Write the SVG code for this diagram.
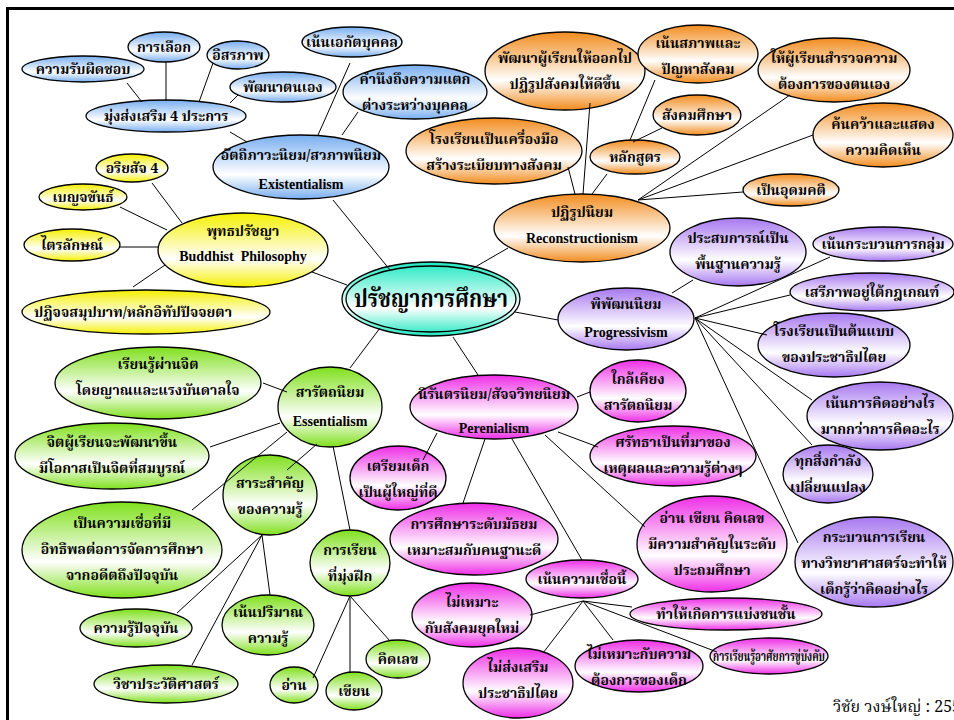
<svg xmlns="http://www.w3.org/2000/svg" width="954" height="720" viewBox="0 0 954 720">
<defs>
<linearGradient id="gB" x1="0" y1="0" x2="0" y2="1"><stop offset="0" stop-color="#78aef0"/><stop offset="0.62" stop-color="#ffffff"/><stop offset="1" stop-color="#78aef0"/></linearGradient>
<linearGradient id="gY" x1="0" y1="0" x2="0" y2="1"><stop offset="0" stop-color="#f5f000"/><stop offset="0.62" stop-color="#ffffff"/><stop offset="1" stop-color="#f5f000"/></linearGradient>
<linearGradient id="gO" x1="0" y1="0" x2="0" y2="1"><stop offset="0" stop-color="#f28c1e"/><stop offset="0.62" stop-color="#ffffff"/><stop offset="1" stop-color="#f28c1e"/></linearGradient>
<linearGradient id="gP" x1="0" y1="0" x2="0" y2="1"><stop offset="0" stop-color="#a778f0"/><stop offset="0.62" stop-color="#ffffff"/><stop offset="1" stop-color="#a778f0"/></linearGradient>
<linearGradient id="gM" x1="0" y1="0" x2="0" y2="1"><stop offset="0" stop-color="#ee2ee6"/><stop offset="0.62" stop-color="#ffffff"/><stop offset="1" stop-color="#ee2ee6"/></linearGradient>
<linearGradient id="gG" x1="0" y1="0" x2="0" y2="1"><stop offset="0" stop-color="#7fe01c"/><stop offset="0.62" stop-color="#ffffff"/><stop offset="1" stop-color="#7fe01c"/></linearGradient>
<linearGradient id="gT" x1="0" y1="0" x2="0" y2="1"><stop offset="0" stop-color="#1ee8c0"/><stop offset="0.62" stop-color="#ffffff"/><stop offset="1" stop-color="#1ee8c0"/></linearGradient>
</defs>
<style>
ellipse{stroke:#000;stroke-width:1.3}
.b{fill:url(#gB)} .y{fill:url(#gY)} .o{fill:url(#gO)} .p{fill:url(#gP)} .m{fill:url(#gM)} .g{fill:url(#gG)} .t{fill:url(#gT)}
text{font-family:'Noto Serif Thai','Noto Sans Thai','Liberation Serif',serif;font-weight:bold;font-size:14px;fill:#000;text-anchor:middle}
text.en{font-family:'Liberation Serif',serif;font-size:14px}
text.big{font-size:24px}
text.foot{font-weight:normal;text-anchor:start;font-size:16px}
#connectors line{stroke:#000;stroke-width:1}
</style>
<rect width="954" height="720" fill="#fff"/>
<path d="M7.5,720 V8.5 H954" fill="none" stroke="#000" stroke-width="3"/>

<!-- Blue / Existentialism -->
<g id="n1"><ellipse class="b" cx="83" cy="69" rx="61" ry="13"/><text x="83" y="74">ความรับผิดชอบ</text></g>
<g id="n2"><ellipse class="b" cx="164" cy="47" rx="36" ry="15"/><text x="164" y="52">การเลือก</text></g>
<g id="n3"><ellipse class="b" cx="238" cy="55" rx="31" ry="14"/><text x="238" y="60">อิสรภาพ</text></g>
<g id="n4"><ellipse class="b" cx="283" cy="87" rx="53" ry="15"/><text x="283" y="92">พัฒนาตนเอง</text></g>
<g id="n5"><ellipse class="b" cx="166" cy="116" rx="80" ry="16"/><text x="166" y="121">มุ่งส่งเสริม 4 ประการ</text></g>
<g id="n6"><ellipse class="b" cx="301" cy="167" rx="88" ry="32"/><text x="301" y="160">อัตถิภาวะนิยม/สวภาพนิยม</text><text class="en" x="301" y="189">Existentialism</text></g>
<g id="n7"><ellipse class="b" cx="352" cy="42" rx="50" ry="15"/><text x="352" y="47">เน้นเอกัตบุคคล</text></g>
<g id="n8"><ellipse class="b" cx="415" cy="92" rx="72" ry="27"/><text x="415" y="84">คำนึงถึงความแตก</text><text x="415" y="110">ต่างระหว่างบุคคล</text></g>

<!-- Yellow / Buddhist -->
<g id="y1"><ellipse class="y" cx="132" cy="168" rx="36" ry="14"/><text x="132" y="173">อริยสัจ 4</text></g>
<g id="y2"><ellipse class="y" cx="83" cy="197" rx="44" ry="13"/><text x="83" y="202">เบญจขันธ์</text></g>
<g id="y3"><ellipse class="y" cx="72" cy="245" rx="48" ry="16"/><text x="72" y="250">ไตรลักษณ์</text></g>
<g id="y4"><ellipse class="y" cx="243" cy="250" rx="85" ry="37"/><text x="243" y="236">พุทธปรัชญา</text><text class="en" x="243" y="261" xml:space="preserve">Buddhist  Philosophy</text></g>
<g id="y5"><ellipse class="y" cx="146" cy="312" rx="124" ry="22"/><text x="133" y="317" textLength="198" lengthAdjust="spacingAndGlyphs">ปฏิจจสมุปบาท/หลักอิทัปปัจจยตา</text></g>

<!-- Center -->
<g id="center"><ellipse class="t" cx="431" cy="299" rx="89" ry="37" stroke-width="1.5"/><ellipse cx="431" cy="299" rx="85" ry="33" fill="none" stroke-width="1.5"/><text class="big" x="431" y="307" textLength="154" lengthAdjust="spacingAndGlyphs">ปรัชญาการศึกษา</text></g>

<!-- Orange / Reconstructionism -->
<g id="o1"><ellipse class="o" cx="565" cy="71" rx="80" ry="39"/><text x="565" y="63">พัฒนาผู้เรียนให้ออกไป</text><text x="565" y="89">ปฏิรูปสังคมให้ดีขึ้น</text></g>
<g id="o2"><ellipse class="o" cx="698" cy="54" rx="60" ry="29"/><text x="698" y="48">เน้นสภาพและ</text><text x="698" y="74">ปัญหาสังคม</text></g>
<g id="o3"><ellipse class="o" cx="834" cy="70" rx="76" ry="32"/><text x="834" y="63">ให้ผู้เรียนสำรวจความ</text><text x="834" y="89">ต้องการของตนเอง</text></g>
<g id="o4"><ellipse class="o" cx="697" cy="115" rx="44" ry="20"/><text x="697" y="120">สังคมศึกษา</text></g>
<g id="o5"><ellipse class="o" cx="494" cy="151" rx="88" ry="33"/><text x="494" y="144">โรงเรียนเป็นเครื่องมือ</text><text x="494" y="170">สร้างระเบียบทางสังคม</text></g>
<g id="o6"><ellipse class="o" cx="635" cy="157" rx="45" ry="17"/><text x="635" y="162">หลักสูตร</text></g>
<g id="o7"><ellipse class="o" cx="883" cy="135" rx="70" ry="32"/><text x="883" y="129">ค้นคว้าและแสดง</text><text x="883" y="155">ความคิดเห็น</text></g>
<g id="o8"><ellipse class="o" cx="791" cy="190" rx="48" ry="16"/><text x="791" y="195">เป็นอุดมคติ</text></g>
<g id="o9"><ellipse class="o" cx="582" cy="228" rx="88" ry="34"/><text x="582" y="217">ปฏิรูปนิยม</text><text class="en" x="582" y="243">Reconstructionism</text></g>

<!-- Purple / Progressivism -->
<g id="p1"><ellipse class="p" cx="626" cy="319" rx="68" ry="31"/><text x="626" y="309">พิพัฒนนิยม</text><text class="en" x="626" y="337">Progressivism</text></g>
<g id="p2"><ellipse class="p" cx="738" cy="252" rx="68" ry="34"/><text x="738" y="243">ประสบการณ์เป็น</text><text x="738" y="269">พื้นฐานความรู้</text></g>
<g id="p3"><ellipse class="p" cx="883" cy="244" rx="70" ry="17"/><text x="883" y="249">เน้นกระบวนการกลุ่ม</text></g>
<g id="p4"><ellipse class="p" cx="872" cy="292" rx="82" ry="19"/><text x="872" y="297">เสรีภาพอยู่ใต้กฎเกณฑ์</text></g>
<g id="p5"><ellipse class="p" cx="834" cy="345" rx="76" ry="32"/><text x="834" y="336">โรงเรียนเป็นต้นแบบ</text><text x="834" y="362">ของประชาธิปไตย</text></g>
<g id="p6"><ellipse class="p" cx="880" cy="416" rx="73" ry="34"/><text x="880" y="408">เน้นการคิดอย่างไร</text><text x="880" y="434">มากกว่าการคิดอะไร</text></g>
<g id="p7"><ellipse class="p" cx="828" cy="474" rx="45" ry="29"/><text x="828" y="466">ทุกสิ่งกำลัง</text><text x="828" y="492">เปลี่ยนแปลง</text></g>
<g id="p8"><ellipse class="p" cx="874" cy="562" rx="79" ry="45"/><text x="874" y="542">กระบวนการเรียน</text><text x="874" y="568">ทางวิทยาศาสตร์จะทำให้</text><text x="874" y="594">เด็กรู้ว่าคิดอย่างไร</text></g>

<!-- Magenta / Perenialism -->
<g id="m1"><ellipse class="m" cx="494" cy="407" rx="84" ry="32"/><text x="494" y="399">นิรันตรนิยม/สัจจวิทยนิยม</text><text class="en" x="494" y="433">Perenialism</text></g>
<g id="m2"><ellipse class="m" cx="638" cy="391" rx="48" ry="31"/><text x="638" y="384">ใกล้เคียง</text><text x="638" y="410">สารัตถนิยม</text></g>
<g id="m3"><ellipse class="m" cx="673" cy="456" rx="83" ry="30"/><text x="673" y="447">ศรัทธาเป็นที่มาของ</text><text x="673" y="473">เหตุผลและความรู้ต่างๆ</text></g>
<g id="m4"><ellipse class="m" cx="398" cy="478" rx="48" ry="32"/><text x="398" y="471">เตรียมเด็ก</text><text x="398" y="497">เป็นผู้ใหญ่ที่ดี</text></g>
<g id="m5"><ellipse class="m" cx="474" cy="539" rx="84" ry="36"/><text x="474" y="529">การศึกษาระดับมัธยม</text><text x="474" y="555">เหมาะสมกับคนฐานะดี</text></g>
<g id="m6"><ellipse class="m" cx="712" cy="544" rx="75" ry="48"/><text x="712" y="523">อ่าน เขียน คิดเลข</text><text x="712" y="549">มีความสำคัญในระดับ</text><text x="712" y="575">ประถมศึกษา</text></g>
<g id="m7"><ellipse class="m" cx="582" cy="579" rx="56" ry="19"/><text x="582" y="584">เน้นความเชื่อนี้</text></g>
<g id="m8"><ellipse class="m" cx="472" cy="615" rx="60" ry="32"/><text x="472" y="607">ไม่เหมาะ</text><text x="472" y="633">กับสังคมยุคใหม่</text></g>
<g id="m9"><ellipse class="m" cx="726" cy="614" rx="96" ry="16"/><text x="726" y="619">ทำให้เกิดการแบ่งชนชั้น</text></g>
<g id="m10"><ellipse class="m" cx="518" cy="683" rx="55" ry="35"/><text x="518" y="672">ไม่ส่งเสริม</text><text x="518" y="698">ประชาธิปไตย</text></g>
<g id="m11"><ellipse class="m" cx="639" cy="666" rx="64" ry="26"/><text x="639" y="659">ไม่เหมาะกับความ</text><text x="639" y="685">ต้องการของเด็ก</text></g>
<g id="m12"><ellipse class="m" cx="769" cy="656" rx="59" ry="18"/><text x="769" y="661" textLength="112" lengthAdjust="spacingAndGlyphs">การเรียนรู้อาศัยการขู่บังคับ</text></g>

<!-- Green / Essentialism -->
<g id="g1"><ellipse class="g" cx="330" cy="407" rx="52" ry="40"/><text x="330" y="397">สารัตถนิยม</text><text class="en" x="330" y="426">Essentialism</text></g>
<g id="g2"><ellipse class="g" cx="158" cy="383" rx="103" ry="36"/><text x="158" y="369">เรียนรู้ผ่านจิต</text><text x="158" y="395">โดยญาณและแรงบันดาลใจ</text></g>
<g id="g3"><ellipse class="g" cx="112" cy="456" rx="97" ry="33"/><text x="112" y="447">จิตผู้เรียนจะพัฒนาขึ้น</text><text x="112" y="473">มีโอกาสเป็นจิตที่สมบูรณ์</text></g>
<g id="g4"><ellipse class="g" cx="122" cy="550" rx="100" ry="48"/><text x="122" y="528">เป็นความเชื่อที่มี</text><text x="122" y="554">อิทธิพลต่อการจัดการศึกษา</text><text x="122" y="580">จากอดีตถึงปัจจุบัน</text></g>
<g id="g5"><ellipse class="g" cx="270" cy="495" rx="47" ry="40"/><text x="270" y="488">สาระสำคัญ</text><text x="270" y="514">ของความรู้</text></g>
<g id="g6"><ellipse class="g" cx="136" cy="628" rx="56" ry="19"/><text x="136" y="633">ความรู้ปัจจุบัน</text></g>
<g id="g7"><ellipse class="g" cx="268" cy="625" rx="46" ry="30"/><text x="268" y="617">เน้นปริมาณ</text><text x="268" y="643">ความรู้</text></g>
<g id="g8"><ellipse class="g" cx="166" cy="684" rx="72" ry="19"/><text x="166" y="689">วิชาประวัติศาสตร์</text></g>
<g id="g9"><ellipse class="g" cx="350" cy="563" rx="40" ry="33"/><text x="350" y="555">การเรียน</text><text x="350" y="581">ที่มุ่งฝึก</text></g>
<g id="g10"><ellipse class="g" cx="294" cy="685" rx="24" ry="18"/><text x="294" y="690">อ่าน</text></g>
<g id="g11"><ellipse class="g" cx="354" cy="691" rx="28" ry="19"/><text x="354" y="696">เขียน</text></g>
<g id="g12"><ellipse class="g" cx="398" cy="659" rx="32" ry="19"/><text x="398" y="664">คิดเลข</text></g>

<g id="connectors">
<line x1="127" y1="83" x2="142" y2="102"/>
<line x1="166" y1="62" x2="166" y2="101"/>
<line x1="213" y1="63" x2="199" y2="102"/>
<line x1="238" y1="95" x2="230" y2="103"/>
<line x1="230" y1="132" x2="247" y2="142"/>
<line x1="350" y1="63" x2="318" y2="135"/>
<line x1="358" y1="112" x2="342" y2="135"/>
<line x1="333" y1="200" x2="390" y2="270"/>
<line x1="152" y1="183" x2="182" y2="223"/>
<line x1="120" y1="207" x2="167" y2="230"/>
<line x1="120" y1="247" x2="158" y2="247"/>
<line x1="133" y1="287" x2="165" y2="265"/>
<line x1="312" y1="272" x2="347" y2="285"/>
<line x1="470" y1="270" x2="508" y2="248"/>
<line x1="590" y1="103" x2="583" y2="194"/>
<line x1="568" y1="167" x2="575" y2="194"/>
<line x1="607" y1="174" x2="592" y2="194"/>
<line x1="655" y1="80" x2="630" y2="140"/>
<line x1="662" y1="128" x2="633" y2="142"/>
<line x1="790" y1="95" x2="638" y2="200"/>
<line x1="813" y1="135" x2="638" y2="200"/>
<line x1="743" y1="192" x2="638" y2="200"/>
<line x1="515" y1="312" x2="558" y2="320"/>
<line x1="693" y1="280" x2="672" y2="293"/>
<line x1="695" y1="318" x2="830" y2="257"/>
<line x1="695" y1="318" x2="790" y2="295"/>
<line x1="695" y1="318" x2="767" y2="335"/>
<line x1="695" y1="318" x2="812" y2="400"/>
<line x1="695" y1="318" x2="812" y2="445"/>
<line x1="695" y1="318" x2="798" y2="543"/>
<line x1="453" y1="337" x2="478" y2="375"/>
<line x1="590" y1="392" x2="577" y2="397"/>
<line x1="598" y1="447" x2="558" y2="432"/>
<line x1="423" y1="460" x2="437" y2="433"/>
<line x1="463" y1="503" x2="485" y2="439"/>
<line x1="645" y1="527" x2="545" y2="435"/>
<line x1="582" y1="560" x2="512" y2="439"/>
<line x1="583" y1="601" x2="530" y2="615"/>
<line x1="583" y1="601" x2="543" y2="653"/>
<line x1="583" y1="601" x2="613" y2="640"/>
<line x1="583" y1="601" x2="632" y2="607"/>
<line x1="583" y1="601" x2="717" y2="652"/>
<line x1="380" y1="328" x2="350" y2="368"/>
<line x1="263" y1="383" x2="287" y2="392"/>
<line x1="210" y1="447" x2="280" y2="423"/>
<line x1="192" y1="510" x2="287" y2="432"/>
<line x1="287" y1="470" x2="317" y2="444"/>
<line x1="350" y1="530" x2="333" y2="446"/>
<line x1="262" y1="535" x2="270" y2="595"/>
<line x1="262" y1="535" x2="177" y2="613"/>
<line x1="262" y1="535" x2="192" y2="665"/>
<line x1="350" y1="596" x2="313" y2="678"/>
<line x1="350" y1="596" x2="350" y2="672"/>
<line x1="350" y1="596" x2="390" y2="641"/>
</g>
<text class="foot" x="833" y="712">วิชัย  วงษ์ใหญ่ : 2550</text>
</svg>
